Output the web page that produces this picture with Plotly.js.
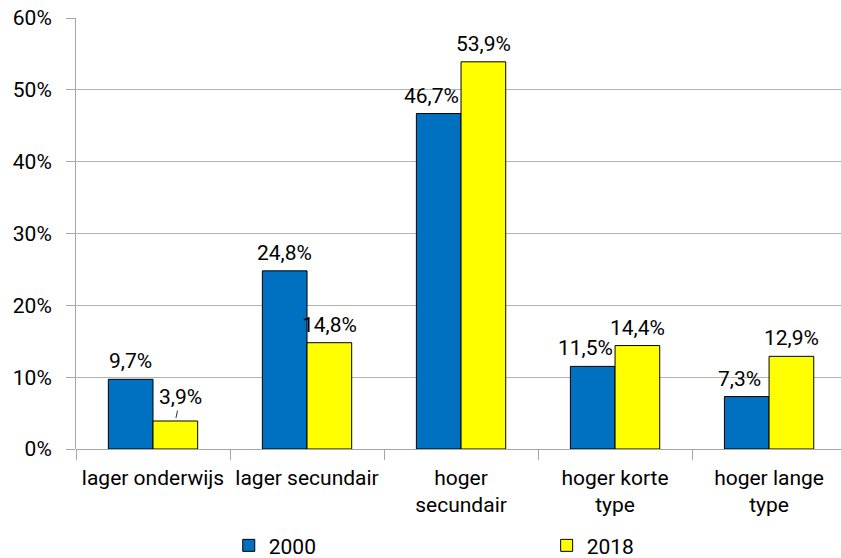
<!DOCTYPE html>
<html>
<head>
<meta charset="utf-8">
<script src="https://cdn.plot.ly/plotly-3.0.1.min.js"></script>
<style>html,body{margin:0;padding:0;background:#fff;}#chart{width:841px;height:558px;}</style>
</head>
<body>
<div id="chart"></div>
<script>
const categories = ["lager onderwijs", "lager secundair", "hoger<br>secundair", "hoger korte<br>type", "hoger lange<br>type"];
const series2000 = [9.7, 24.8, 46.7, 11.5, 7.3];
const series2018 = [3.9, 14.8, 53.9, 14.4, 12.9];
const seriesNames = ["2000", "2018"];
const yTickVals = [0, 10, 20, 30, 40, 50, 60];
const yTickText = ["0%", "10%", "20%", "30%", "40%", "50%", "60%"];

const fmt = v => v.toFixed(1).replace('.', ',') + '%';
const FONT = 'Roboto, "DejaVu Sans", sans-serif';
const FS = 21;
const bargap = 0.42;
const offset = (1 - bargap) / 4;
const smallIdx = 0; // label of the small 2018 bar uses a leader line

const traces = [
  {
    type: 'bar', name: seriesNames[0], x: categories, y: series2000,
    marker: {color: '#0070C0', line: {color: '#000', width: 1}},
    hoverinfo: 'skip', legend: 'legend'
  },
  {
    type: 'bar', name: seriesNames[1], x: categories, y: series2018,
    marker: {color: '#FFFF00', line: {color: '#000', width: 1}},
    hoverinfo: 'skip', legend: 'legend2'
  }
];

const labelFont = {family: FONT, size: FS, color: '#000'};
const annotations = [];
series2000.forEach((v, i) => {
  annotations.push({
    x: i - offset, y: v, xref: 'x', yref: 'y', text: fmt(v), showarrow: false,
    yanchor: 'middle', yshift: 18, xshift: series2018[i] > v ? -7 : 0, font: labelFont
  });
});
series2018.forEach((v, i) => {
  if (i === smallIdx) {
    annotations.push({
      x: i + offset, y: v, xref: 'x', yref: 'y', text: fmt(v), showarrow: true,
      arrowhead: 0, arrowwidth: 0.8, arrowcolor: '#000', ax: 5, ay: -24, standoff: 3,
      font: labelFont
    });
  } else {
    annotations.push({
      x: i + offset, y: v, xref: 'x', yref: 'y', text: fmt(v), showarrow: false,
      yanchor: 'middle', yshift: 18, font: labelFont
    });
  }
});

const legendBase = {
  orientation: 'h', xref: 'container', yref: 'container',
  xanchor: 'left', yanchor: 'middle', y: 0.022,
  itemwidth: 30, bgcolor: 'rgba(0,0,0,0)',
  font: {family: FONT, size: FS, color: '#000'}
};
const layout = {
  width: 841, height: 558,
  margin: {l: 76, r: 0, t: 18, b: 109, autoexpand: false},
  paper_bgcolor: '#fff', plot_bgcolor: '#fff',
  barmode: 'group', bargap: bargap, bargroupgap: 0,
  showlegend: true,
  font: {family: FONT, size: FS, color: '#000'},
  xaxis: {
    type: 'category', range: [-0.5, 4.467], automargin: false,
    tickson: 'boundaries', ticks: 'outside', ticklen: 10, tickcolor: '#A6A6A6',
    ticklabelstandoff: 14,
    showline: false, showgrid: false, zeroline: false,
    tickfont: {family: FONT, size: FS, color: '#000'}
  },
  yaxis: {
    range: [0, 60], tickvals: yTickVals, ticktext: yTickText, automargin: false,
    ticks: 'outside', ticklen: 9, tickcolor: '#A6A6A6', ticklabelstandoff: 10,
    showgrid: true, gridcolor: '#B4B4B4', gridwidth: 1,
    showline: true, linecolor: '#A6A6A6', linewidth: 1,
    zeroline: true, zerolinecolor: '#A6A6A6',
    tickfont: {family: FONT, size: FS, color: '#000'}
  },
  legend: Object.assign({}, legendBase, {x: 0.272}),
  legend2: Object.assign({}, legendBase, {x: 0.65}),
  annotations: annotations
};

Plotly.newPlot('chart', traces, layout, {displayModeBar: false, staticPlot: true});
</script>
</body>
</html>
